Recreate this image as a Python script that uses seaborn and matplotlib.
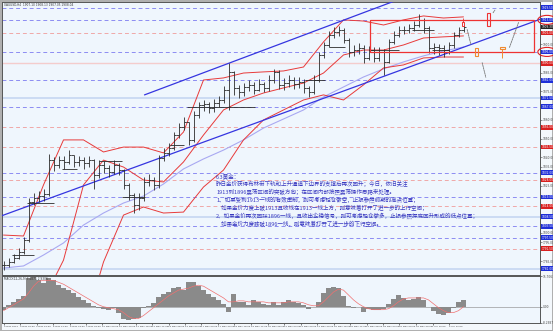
import numpy as np
import pandas as pd
import matplotlib
matplotlib.use("Agg")
import matplotlib.pyplot as plt
import seaborn as sns
from matplotlib.patches import Rectangle, Ellipse
from matplotlib.transforms import blended_transform_factory

# ---------------- data ----------------
close = [1782.9, 1784.5, 1786.6, 1789.8, 1796.2, 1816.3, 1818.5, 1819.5, 1820.6, 1838.6,
         1836.0, 1838.6, 1837.6, 1841.3, 1837.6, 1838.6, 1837.0, 1838.6, 1830.7, 1836.0,
         1834.4, 1832.3, 1836.0, 1833.3, 1825.4, 1820.1, 1814.7, 1818.5, 1827.0, 1828.0,
         1825.4, 1839.7, 1842.4, 1845.0, 1851.9, 1856.2, 1858.8, 1849.3, 1862.5, 1867.8,
         1868.4, 1866.3, 1868.9, 1870.5, 1875.8, 1885.4, 1876.9, 1874.8, 1877.4, 1878.5,
         1875.8, 1879.0, 1876.9, 1881.1, 1885.4, 1878.5, 1879.5, 1881.1, 1879.0, 1880.1,
         1876.9, 1874.8, 1881.1, 1894.4, 1899.7, 1905.0, 1906.6, 1907.7, 1902.4, 1896.0,
         1897.0, 1898.1, 1892.8, 1897.0, 1892.8, 1896.0, 1890.7, 1901.3, 1905.0, 1907.7,
         1907.7, 1908.7, 1910.3, 1913.0, 1908.7, 1898.1, 1898.6, 1898.1, 1897.0, 1899.7,
         1905.0, 1907.7, 1909.3]
high = [1785.0, 1786.5, 1789.0, 1792.0, 1798.0, 1818.5, 1821.0, 1822.0, 1823.0, 1842.0,
        1840.0, 1841.0, 1840.5, 1844.0, 1841.5, 1841.0, 1840.0, 1841.0, 1839.0, 1838.5,
        1838.0, 1836.0, 1838.5, 1837.0, 1834.0, 1826.5, 1821.0, 1821.0, 1829.5, 1831.0,
        1829.5, 1841.5, 1845.0, 1847.5, 1853.5, 1858.5, 1861.5, 1859.0, 1864.5, 1869.5,
        1870.5, 1869.5, 1871.0, 1872.5, 1878.0, 1890.0, 1886.0, 1878.5, 1879.5, 1881.0,
        1880.0, 1881.5, 1880.0, 1883.5, 1887.0, 1886.5, 1882.0, 1883.5, 1882.5, 1882.5,
        1881.5, 1878.0, 1883.5, 1896.0, 1901.5, 1907.0, 1909.0, 1910.0, 1908.5, 1903.5,
        1899.5, 1900.5, 1899.5, 1899.0, 1898.5, 1898.5, 1897.5, 1903.0, 1907.0, 1909.5,
        1910.0, 1911.0, 1912.5, 1916.0, 1914.0, 1909.5, 1900.5, 1900.0, 1899.5, 1901.5,
        1906.5, 1909.0, 1910.5]
low = [1780.5, 1782.0, 1784.0, 1786.0, 1788.5, 1795.0, 1815.0, 1816.5, 1817.0, 1819.5,
       1833.0, 1834.5, 1834.0, 1836.5, 1835.0, 1835.5, 1834.0, 1835.0, 1823.5, 1829.0,
       1831.5, 1829.5, 1831.0, 1830.5, 1823.0, 1817.5, 1810.5, 1812.0, 1817.0, 1825.0,
       1822.5, 1824.0, 1838.0, 1841.0, 1844.0, 1850.5, 1854.5, 1846.5, 1848.0, 1861.0,
       1864.5, 1863.5, 1864.0, 1867.0, 1869.0, 1865.0, 1873.0, 1871.5, 1872.5, 1875.0,
       1873.5, 1875.0, 1874.5, 1875.5, 1879.5, 1876.5, 1876.0, 1877.5, 1876.5, 1877.0,
       1874.0, 1872.0, 1873.5, 1880.0, 1893.0, 1898.5, 1903.5, 1904.5, 1900.5, 1893.5,
       1894.0, 1895.0, 1890.0, 1891.5, 1890.5, 1891.0, 1884.0, 1890.0, 1900.0, 1904.0,
       1905.5, 1906.0, 1907.0, 1909.0, 1906.0, 1895.5, 1895.0, 1894.5, 1893.5, 1895.0,
       1898.0, 1904.0, 1906.5]

band_bar = [0, 4, 8, 12, 16, 20, 24, 28, 32, 36, 40, 44, 48, 52, 56, 60, 64, 68, 72, 76, 80, 84, 88, 92]
bb_upper = [1798.8, 1798.3, 1825.4, 1849.3, 1849.3, 1842.9, 1845.5, 1845.5, 1842.4, 1853.5,
            1881.1, 1882.2, 1884.8, 1885.4, 1885.9, 1888.0, 1901.3, 1913.0, 1912.4, 1910.3,
            1913.0, 1915.1, 1914.0, 1914.6]
bb_middle = [1748.4, 1756.3, 1764.3, 1785.5, 1825.4, 1838.6, 1834.9, 1828.0, 1827.0, 1837.6,
             1851.9, 1865.2, 1870.5, 1874.2, 1876.9, 1879.5, 1884.8, 1894.4, 1897.0, 1897.0,
             1899.7, 1903.4, 1904.0, 1904.5]
bb_lower = [1700.6, 1711.2, 1716.5, 1727.1, 1748.4, 1784.5, 1809.4, 1813.7, 1810.5, 1811.0,
            1824.3, 1833.3, 1849.3, 1859.9, 1865.2, 1870.5, 1873.2, 1870.5, 1878.5, 1887.5,
            1889.1, 1892.8, 1893.3, 1893.3]
ma_slow = [1781.3, 1782.4, 1788.2, 1794.6, 1804.1, 1810.5, 1815.8, 1819.5, 1825.9, 1833.9,
           1839.2, 1843.9, 1849.3, 1855.6, 1860.4, 1865.2, 1872.1, 1877.4, 1882.7, 1887.0,
           1890.7, 1893.9, 1896.5, 1898.6]

macd_hist = [-1.5, 1.0, 2.5, 4.0, 5.5, 14.5, 15.0, 13.5, 12.0, 14.5,
             13.5, 11.0, 9.5, 8.5, 7.0, 5.0, 3.5, 2.0, 0.5, -0.5,
             -1.0, -1.5, -0.5, -3.0, -6.5, -7.0, -6.5, -5.5, -0.5, 0.5,
             2.0, 5.0, 6.5, 7.5, 9.5, 10.0, 8.5, 12.5, 12.5, 10.5,
             8.5, 6.5, 5.0, 3.5, 1.5, -2.5, 6.5, 2.5, 2.5, 1.0,
             3.5, 2.5, 1.5, 1.0, 2.5, 1.0, 2.5, 3.5, 2.5, 2.0,
             1.0, -1.0, 0.0, 2.5, 7.0, 9.5, 10.0, 9.5, 5.5, 0.5,
             -0.5, 0.0, -2.5, -1.0, -1.5, -1.5, -1.0, 1.5, 4.0, 6.0,
             4.5, 3.5, 4.0, 5.0, 3.5, 0.0, -2.0, -3.5, -4.0, -3.0,
             -0.5, 2.5, 3.5]
macd_signal = [-2.0, -0.5, 1.0, 2.5, 4.0, 7.0, 10.5, 13.0, 13.5, 13.5,
               13.5, 12.5, 11.5, 10.0, 8.5, 7.0, 5.5, 4.0, 2.5, 1.0,
               0.0, -0.5, -1.0, -1.5, -3.0, -5.0, -6.0, -6.0, -4.5, -2.5,
               -0.5, 1.5, 3.5, 5.5, 7.0, 8.5, 9.0, 9.5, 10.5, 11.0,
               10.5, 9.0, 7.5, 6.0, 4.5, 2.5, 2.5, 3.0, 3.0, 2.5,
               2.5, 2.5, 2.5, 2.0, 2.0, 2.0, 2.0, 2.5, 2.5, 2.5,
               2.0, 1.0, 0.5, 0.5, 2.5, 5.0, 7.5, 9.0, 8.5, 6.0,
               3.5, 1.5, 0.0, -1.0, -1.5, -1.5, -1.5, -1.0, 0.5, 2.5,
               4.0, 4.5, 4.5, 4.5, 4.5, 3.5, 1.5, -0.5, -2.0, -3.0,
               -3.0, -2.0, 0.0]

levels_blue = [1919.5, 1913.0, 1896.0, 1881.0, 1867.0, 1832.0, 1819.0, 1803.5, 1797.5]
levels_pink = [1906.0, 1856.0, 1845.5, 1828.0, 1814.0, 1791.5]
levels_pink_solid = [1890.0]
levels_lightblue = [1871.5, 1808.5, 1781.0]

# trend channel anchors (bar, price)
chan_lower_bar = [-0.4, 107.6]
chan_lower_price = [1809.0, 1913.6]
chan_upper_bar = [28.2, 80.0]
chan_upper_price = [1873.2, 1924.8]

# pivot segments
seg_start = [1.6, 4.6, 11.6, 19.0, 23.6, 33.2, 36.6, 60.2, 65.0, 73.0, 81.6, 85.6]
seg_end = [6.0, 10.0, 14.6, 23.6, 28.2, 36.0, 50.2, 64.2, 68.2, 79.0, 86.0, 89.0]
seg_level = [1788.2, 1815.8, 1833.9, 1838.1, 1819.0, 1846.6, 1866.8, 1881.1, 1898.6, 1897.0, 1907.7, 1897.0]

x_labels = ["3 May 2021", "3 May 20:00", "4 May 16:00", "5 May 12:00", "6 May 08:00",
            "7 May 04:00", "10 May 00:00", "10 May 20:00", "11 May 16:00", "12 May 12:00",
            "13 May 08:00", "14 May 04:00", "17 May 00:00", "17 May 20:00", "18 May 16:00",
            "19 May 12:00", "20 May 08:00", "21 May 04:00", "24 May 00:00", "24 May 20:00",
            "25 May 16:00", "26 May 12:00", "27 May 08:00", "28 May 04:00", "31 May 00:00",
            "31 May 20:00", "1 Jun 16:00", "2 Jun 12:00"]

note_lines = [
    "6.3黄金：",
    "昨日金价获得布林带下轨和上升通道下边界的支撑后再次回升；今日，依旧关注",
    "1913到1896震荡区间的突破方向；在区间内部按照震荡操作思路来处理。",
    "1、如果受到1913一线的有效压制，则可考虑轻仓做空，止损参照前期的高点位置；",
    "    如果金价力度上破1913且收线在1913一线上方，则意味着打开了进一步的上行空间；",
    "2、如果金价再次回踩1896一线，且收出企稳信号，则可考虑轻仓做多，止损参照探底回升形成的低点位置；",
    "    如果金价力度跌破1896一线，则意味着打开了进一步的下行空间。",
]

# ---------------- figure ----------------
sns.set_theme(style="white")
plt.rcParams['font.family'] = ['DejaVu Sans']
BG = '#EFF6FD'
W, H = 553, 331
fig = plt.figure(figsize=(W / 100, H / 100), dpi=100)
fig.patch.set_facecolor('#F4F8FC')
fig.patch.set_edgecolor('#B0B0B0')
fig.patch.set_linewidth(1.0)


def box(x0, y0, x1, y1):
    return [x0 / W, 1 - y1 / H, (x1 - x0) / W, (y1 - y0) / H]


ax = fig.add_axes(box(2, 2, 540, 275))
axm = fig.add_axes(box(2, 276, 540, 323), sharex=ax)
for a in (ax, axm):
    a.set_facecolor(BG)
    for s in a.spines.values():
        s.set_color('#555555')
        s.set_linewidth(0.7)

bars = np.arange(len(close))
XMIN, XMAX = -0.3, 107.3
YMIN, YMAX = 1777.6, 1922.5
LBL = 2.1

# horizontal levels
for v in levels_lightblue:
    ax.axhline(v, color='#C6D6F2', lw=1.2, zorder=1)
for v in levels_pink_solid:
    ax.axhline(v, color='#F4CCCC', lw=1.0, zorder=1)
for v in levels_blue:
    ax.axhline(v, color='#8C8CF2', lw=0.7, ls=(0, (4, 3)), zorder=1)
for v in levels_pink:
    ax.axhline(v, color='#EFA8A8', lw=0.7, ls=(0, (4, 3)), zorder=1)

# moving average and Bollinger bands
sns.lineplot(x=band_bar, y=ma_slow, ax=ax, color='#A9A9F2', lw=0.8, zorder=2)
for band in (bb_upper, bb_middle, bb_lower):
    sns.lineplot(x=band_bar, y=band, ax=ax, color='#E83A3A', lw=0.7, zorder=3)

# trend channel
sns.lineplot(x=chan_lower_bar, y=chan_lower_price, ax=ax, color='#3535E0', lw=0.9, zorder=4)
sns.lineplot(x=chan_upper_bar, y=chan_upper_price, ax=ax, color='#3535E0', lw=0.9, zorder=4)

# pivot segments
ax.hlines(seg_level, seg_start, seg_end, color='#2A2A2A', lw=0.6, zorder=5)

# OHLC bars
opens = [close[0]] + close[:-1]
ax.vlines(bars, low, high, color='#2B2B2B', lw=0.6, zorder=6)
ax.hlines(close, bars, bars + 0.45, color='#2B2B2B', lw=0.6, zorder=6)
ax.hlines(opens, bars - 0.45, bars, color='#2B2B2B', lw=0.6, zorder=6)

# consolidation box and forecast marks
ax.add_patch(Rectangle((73.2, 1896.0), 106.0 - 73.2, 1913.0 - 1896.0, fill=False,
                       ec='#EE3333', lw=0.9, zorder=7))
ax.add_patch(Rectangle((91.6, 1909.5), 0.5, 2.2, fill=False, ec='#EE3333', lw=0.7, zorder=7))
ax.vlines(91.85, 1911.7, 1914.0, color='#EE3333', lw=0.6, zorder=7)
ax.add_patch(Rectangle((96.6, 1909.8), 0.7, 6.9, fill=False, ec='#EE3333', lw=0.8, zorder=7))
ax.add_patch(Rectangle((94.2, 1893.9), 0.7, 4.2, fill=False, ec='#F08A30', lw=0.8, zorder=7))
ax.add_patch(Rectangle((99.2, 1897.6), 1.0, 1.2, fill=False, ec='#F08A30', lw=0.8, zorder=7))
ax.vlines(99.7, 1893.0, 1897.6, color='#F08A30', lw=0.7, zorder=7)
arrow_kw = dict(arrowstyle='-', color='#777777', lw=0.6, ls=(0, (2, 1)))
for (x0, y0, x1, y1) in [(92.6, 1909.3, 93.6, 1898.6), (95.6, 1891.7, 96.6, 1881.1),
                         (97.6, 1915.6, 98.6, 1919.4), (101.0, 1897.0, 103.2, 1913.0)]:
    ax.annotate('', xy=(x1, y1), xytext=(x0, y0), arrowprops=arrow_kw, zorder=7)

ax.set_xlim(XMIN, XMAX)
ax.set_ylim(YMIN, YMAX)

# right price scale
ax.yaxis.tick_right()
yt = [v for v in np.arange(1780, 1921, 5.0)
      if min(abs(v - l) for l in levels_blue + levels_pink + levels_pink_solid + levels_lightblue) > 2.0]
ax.set_yticks(yt)
ax.set_yticklabels([f"{v:.2f}" for v in yt], fontsize=LBL, color='#444444')
ax.tick_params(axis='y', length=1.2, width=0.4, pad=0.5, colors='#444444')
ax.tick_params(axis='x', bottom=False, labelbottom=False)
ax.set_xlabel('')
ax.set_ylabel('')

tr = blended_transform_factory(ax.transAxes, ax.transData)
for v in levels_blue + levels_lightblue:
    ax.text(1.003, v, f"{v:.2f}", transform=tr, fontsize=LBL, color='white', va='center',
            ha='left', bbox=dict(boxstyle='square,pad=0.12', fc='#1F2FD8', ec='none'))
for v in levels_pink + levels_pink_solid:
    ax.text(1.003, v, f"{v:.2f}", transform=tr, fontsize=LBL, color='white', va='center',
            ha='left', bbox=dict(boxstyle='square,pad=0.12', fc='#D82020', ec='none'))
ax.text(1.003, close[-1], f"{close[-1]:.2f}", transform=tr, fontsize=LBL, color='white',
        va='center', ha='left', bbox=dict(boxstyle='square,pad=0.12', fc='#222222', ec='none'))
for v in (1913.0, 1896.0):
    ax.add_patch(Ellipse((1.013, v), 0.034, 4.8, transform=tr, fill=False, ec='#E02020',
                         lw=0.8, clip_on=False, zorder=10))

ax.text(0.003, 0.997, "XAUUSD,H4  1907.10 1908.13 1907.05 1908.04", transform=ax.transAxes,
        fontsize=LBL, color='#333333', va='top', ha='left')

# note text
for k, line in enumerate(note_lines):
    ax.text(0.398, 0.363 - k * 0.0293, line, transform=ax.transAxes, fontsize=4.0,
            color='#3A3AC0', va='center', ha='left',
            family=['Noto Sans CJK SC', 'DejaVu Sans'], zorder=8)

# ---------------- MACD panel ----------------
axm.bar(bars, macd_hist, width=1.0, color='#8A8A8A', edgecolor='none', zorder=2)
sns.lineplot(x=bars, y=macd_signal, ax=axm, color='#F07070', lw=0.5, zorder=3)
axm.axhline(0, color='#9A9A9A', lw=0.5, zorder=1)
axm.set_ylim(-8.3, 15.7)
axm.set_xlim(XMIN, XMAX)
axm.yaxis.tick_right()
axm.set_yticks([15.7, 0.0, -8.3])
axm.set_yticklabels(["15.7063", "0.00", "-8.2987"], fontsize=LBL, color='#444444')
axm.tick_params(axis='y', length=1.2, width=0.4, pad=0.5)
axm.set_ylabel('')
axm.text(0.003, 0.985, "MACD(12,26,9) 3.4871 2.9306", transform=axm.transAxes,
         fontsize=LBL, color='#333333', va='top', ha='left')
tick_pos = np.arange(len(x_labels)) * 3.3
axm.set_xticks(tick_pos)
axm.set_xticklabels(x_labels, fontsize=1.7, color='#333333', ha='left')
axm.tick_params(axis='x', length=1.2, width=0.4, pad=0.8, bottom=True)
axm.set_xlabel('')

fig.savefig('out.png', dpi=100, facecolor=fig.get_facecolor(), edgecolor=fig.get_edgecolor())
